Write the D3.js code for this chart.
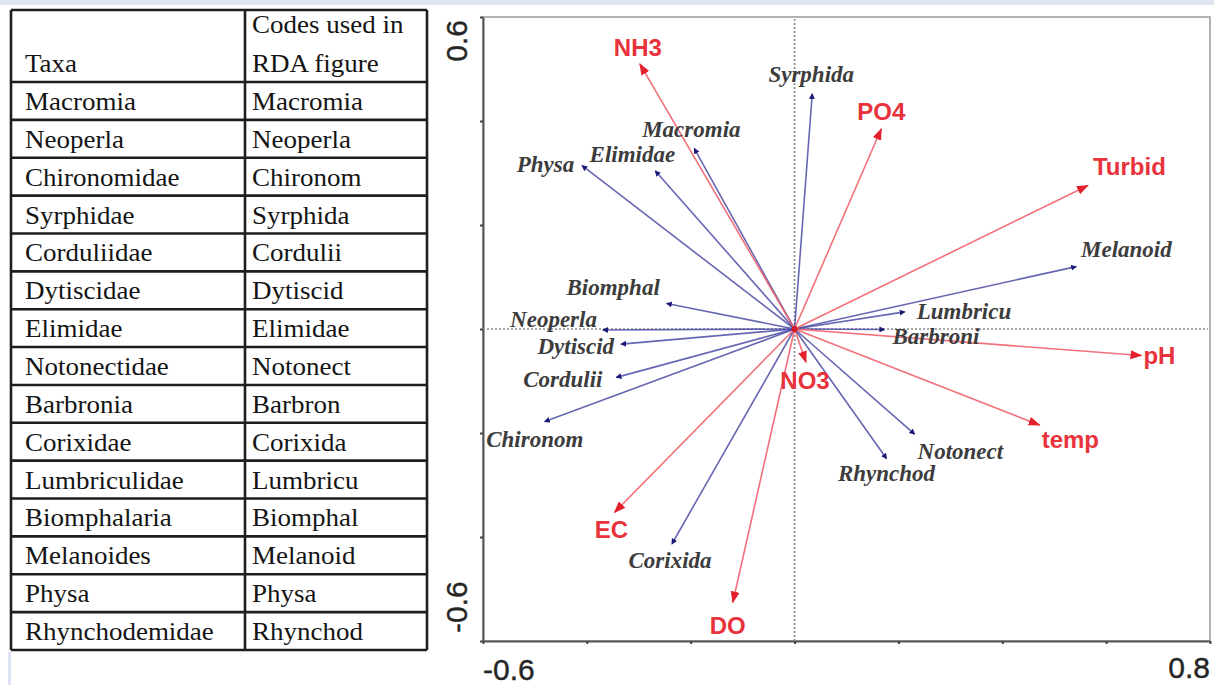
<!DOCTYPE html>
<html lang="en">
<head>
<meta charset="UTF-8">
<title>RDA biplot with taxa codes</title>
<script src="https://cdnjs.cloudflare.com/ajax/libs/d3/7.8.5/d3.min.js"></script>
<style>
    body { margin: 0; background: #fff; overflow: hidden; }
    svg { display: block; }
</style>
</head>
<body>
<script>
// table contents
const headerTaxa = ["Taxa"];
const headerCodes = ["Codes used in", "RDA figure"];
const taxa = ["Macromia", "Neoperla", "Chironomidae", "Syrphidae", "Corduliidae", "Dytiscidae",
    "Elimidae", "Notonectidae", "Barbronia", "Corixidae", "Lumbriculidae", "Biomphalaria",
    "Melanoides", "Physa", "Rhynchodemidae"];
const codes = ["Macromia", "Neoperla", "Chironom", "Syrphida", "Cordulii", "Dytiscid",
    "Elimidae", "Notonect", "Barbron", "Corixida", "Lumbricu", "Biomphal",
    "Melanoid", "Physa", "Rhynchod"];

// species scores (RDA axis 1, axis 2)
const speciesNames = ["Syrphida", "Macromia", "Elimidae", "Physa", "Biomphal", "Neoperla", "Dytiscid",
    "Cordulii", "Chironom", "Corixida", "Melanoid", "Lumbricu", "Barbroni", "Notonect", "Rhynchod"];
const speciesX = [0.034, -0.193, -0.268, -0.409, -0.246, -0.369, -0.334, -0.343, -0.481, -0.236, 0.542, 0.212, 0.173, 0.231, 0.177];
const speciesY = [0.452, 0.347, 0.304, 0.314, 0.049, -0.002, -0.029, -0.093, -0.178, -0.413, 0.120, 0.033, -0.001, -0.202, -0.249];

// environmental variables
const envNames = ["NH3", "PO4", "Turbid", "pH", "temp", "NO3", "EC", "DO"];
const envX = [-0.298, 0.167, 0.565, 0.668, 0.472, 0.022, -0.347, -0.119];
const envY = [0.510, 0.385, 0.276, -0.051, -0.185, -0.064, -0.353, -0.526];

const xTicks = [-0.6, -0.4, -0.2, 0, 0.2, 0.4, 0.6, 0.8];
const yTicks = [-0.6, -0.4, -0.2, 0, 0.2, 0.4, 0.6];
const xEndLabels = ["-0.6", "0.8"];
const yEndLabels = ["0.6", "-0.6"];

// label placement relative to the arrow tip: [anchor, dx, dy]
const labelPos = {
    Syrphida: ["middle", -1, -12], Macromia: ["middle", -3, -12], Elimidae: ["middle", -23, -9],
    Physa: ["end", -8, 6], Biomphal: ["end", -7, -9], Neoperla: ["end", -6, -3],
    Dytiscid: ["end", -7, 10], Cordulii: ["end", -14, 10], Chironom: ["middle", -10, 25],
    Corixida: ["middle", -2, 24], Melanoid: ["start", 5, -10], Lumbricu: ["start", 12, 7],
    Barbroni: ["start", 8, 14], Notonect: ["start", 3, 25], Rhynchod: ["middle", 0, 23],
    NH3: ["middle", -2, -8], PO4: ["middle", 0, -9], Turbid: ["start", 5, -10],
    pH: ["start", 2, 8], temp: ["start", 2, 23], NO3: ["middle", -1, 27],
    EC: ["middle", -3, 25], DO: ["middle", -5, 31]
};

const width = 1214, height = 685;
const svg = d3.select("body").append("svg")
    .attr("width", width)
    .attr("height", height);

// page furniture
svg.append("rect").attr("x", 0).attr("y", 0).attr("width", width).attr("height", 5).attr("fill", "#e0e5f1");
svg.append("rect").attr("x", 8).attr("y", 652).attr("width", 3).attr("height", 33).attr("fill", "#dde3f2");

// ---------- table ----------
const tb = { left: 11, mid: 245, right: 427, top: 10, head: 82, bottom: 650 };
const rowScale = d3.scaleBand().domain(taxa).range([tb.head, tb.bottom]);
const serif = "'Liberation Serif', 'Times New Roman', serif";
const table = svg.append("g").attr("font-family", serif)
    .attr("font-size", 25).attr("fill", "#141414");

const rowLines = [tb.top, tb.head].concat(taxa.map(t => rowScale(t) + rowScale.bandwidth()));
table.selectAll("line.row").data(rowLines).join("line")
    .attr("x1", tb.left).attr("x2", tb.right)
    .attr("y1", d => d).attr("y2", d => d)
    .attr("stroke", "#1e1e1e").attr("stroke-width", 2.6);
table.selectAll("line.col").data([tb.left, tb.mid, tb.right]).join("line")
    .attr("x1", d => d).attr("x2", d => d)
    .attr("y1", tb.top).attr("y2", tb.bottom)
    .attr("stroke", "#1e1e1e").attr("stroke-width", 2.6);

const stretch = x0 => `translate(${x0},0) scale(1.08,1) translate(${-x0},0)`;
table.append("text").attr("x", tb.left + 14).attr("y", 72)
    .attr("transform", stretch(tb.left + 14)).text(headerTaxa[0]);
headerCodes.forEach((t, i) => {
    table.append("text").attr("x", tb.mid + 7).attr("y", 33 + i * 39)
        .attr("transform", stretch(tb.mid + 7)).text(t);
});
taxa.forEach((t, i) => {
    const y = rowScale(t) + rowScale.bandwidth() / 2 + 9;
    table.append("text").attr("x", tb.left + 14).attr("y", y)
        .attr("transform", stretch(tb.left + 14)).text(t);
    table.append("text").attr("x", tb.mid + 7).attr("y", y)
        .attr("transform", stretch(tb.mid + 7)).text(codes[i]);
});

// ---------- RDA biplot ----------
const plot = { left: 483, right: 1210, top: 17, bottom: 641 };
const x = d3.scaleLinear().domain([-0.6, 0.8]).range([plot.left, plot.right]);
const y = d3.scaleLinear().domain([-0.6, 0.6]).range([plot.bottom, plot.top]);

const defs = svg.append("defs");
defs.append("marker").attr("id", "redHead")
    .attr("markerUnits", "userSpaceOnUse")
    .attr("viewBox", "0 0 12 10").attr("refX", 11).attr("refY", 5)
    .attr("markerWidth", 12).attr("markerHeight", 10).attr("orient", "auto")
    .append("path").attr("d", "M0,0.5 L12,5 L0,9.5 Z").attr("fill", "#e3202c");
defs.append("marker").attr("id", "blueHead")
    .attr("markerUnits", "userSpaceOnUse")
    .attr("viewBox", "0 0 6 6").attr("refX", 5).attr("refY", 3)
    .attr("markerWidth", 6).attr("markerHeight", 6).attr("orient", "auto")
    .append("path").attr("d", "M0,0 L6,3 L0,6 Z").attr("fill", "#1c1c78");

// frame
svg.append("rect").attr("x", plot.left).attr("y", plot.top)
    .attr("width", plot.right - plot.left).attr("height", plot.bottom - plot.top)
    .attr("fill", "none").attr("stroke", "#9a9a9a").attr("stroke-width", 1.5);

// axes with tiny ticks, no labels
const xAxis = svg.append("g").attr("transform", `translate(0,${plot.bottom})`)
    .call(d3.axisBottom(x).tickValues(xTicks).tickSize(3).tickSizeOuter(0).tickFormat(""));
const yAxis = svg.append("g").attr("transform", `translate(${plot.left},0)`)
    .call(d3.axisLeft(y).tickValues(yTicks).tickSize(3).tickSizeOuter(0).tickFormat(""));
[xAxis, yAxis].forEach(a => {
    a.select(".domain").attr("stroke", "#555").attr("stroke-width", 2);
    a.selectAll(".tick line").attr("stroke", "#444").attr("stroke-width", 2);
});

// zero lines
svg.append("line").attr("x1", x(0)).attr("x2", x(0)).attr("y1", plot.top + 2).attr("y2", plot.bottom)
    .attr("stroke", "#8a8a8a").attr("stroke-width", 1.6).attr("stroke-dasharray", "2,2");
svg.append("line").attr("x1", plot.left).attr("x2", plot.right - 2).attr("y1", y(0)).attr("y2", y(0))
    .attr("stroke", "#8a8a8a").attr("stroke-width", 1.6).attr("stroke-dasharray", "2,2");

// axis end labels
const axisFont = "'Liberation Sans', Arial, sans-serif";
const endLabel = sel => sel.attr("font-family", axisFont).attr("font-size", 30)
    .attr("fill", "#262626").attr("stroke", "#262626").attr("stroke-width", 0.4);
svg.append("text").attr("x", x(-0.6)).attr("y", 680).attr("text-anchor", "start")
    .call(endLabel).text(xEndLabels[0]);
svg.append("text").attr("x", x(0.8)).attr("y", 678).attr("text-anchor", "end")
    .call(endLabel).text(xEndLabels[1]);
svg.append("text").attr("transform", `translate(467,${y(0.6) + 3}) rotate(-90)`).attr("text-anchor", "end")
    .call(endLabel).text(yEndLabels[0]);
svg.append("text").attr("transform", `translate(467,${y(-0.6) - 8}) rotate(-90)`).attr("text-anchor", "start")
    .call(endLabel).text(yEndLabels[1]);

// arrows
const species = speciesNames.map((n, i) => ({ name: n, x: speciesX[i], y: speciesY[i] }));
const env = envNames.map((n, i) => ({ name: n, x: envX[i], y: envY[i] }));

svg.append("g").selectAll("line").data(species).join("line")
    .attr("x1", x(0)).attr("y1", y(0))
    .attr("x2", d => x(d.x)).attr("y2", d => y(d.y))
    .attr("stroke", "#4b4ba6").attr("stroke-opacity", 0.85).attr("stroke-width", 1.6)
    .attr("marker-end", "url(#blueHead)");

svg.append("g").selectAll("line").data(env).join("line")
    .attr("x1", x(0)).attr("y1", y(0))
    .attr("x2", d => x(d.x)).attr("y2", d => y(d.y))
    .attr("stroke", "#f0606c").attr("stroke-opacity", 0.9).attr("stroke-width", 1.6)
    .attr("marker-end", "url(#redHead)");

svg.append("circle").attr("cx", x(0)).attr("cy", y(0)).attr("r", 3).attr("fill", "#d01828");

// labels
svg.append("g").selectAll("text").data(species).join("text")
    .attr("x", d => x(d.x) + labelPos[d.name][1])
    .attr("y", d => y(d.y) + labelPos[d.name][2])
    .attr("text-anchor", d => labelPos[d.name][0])
    .attr("font-family", serif)
    .attr("font-style", "italic").attr("font-weight", "bold").attr("font-size", 23)
    .attr("fill", "#3c3c3c")
    .text(d => d.name);

svg.append("g").selectAll("text").data(env).join("text")
    .attr("x", d => x(d.x) + labelPos[d.name][1])
    .attr("y", d => y(d.y) + labelPos[d.name][2])
    .attr("text-anchor", d => labelPos[d.name][0])
    .attr("font-family", axisFont).attr("font-weight", "bold").attr("font-size", 24)
    .attr("fill", "#e8323c")
    .text(d => d.name);
</script>
</body>
</html>
